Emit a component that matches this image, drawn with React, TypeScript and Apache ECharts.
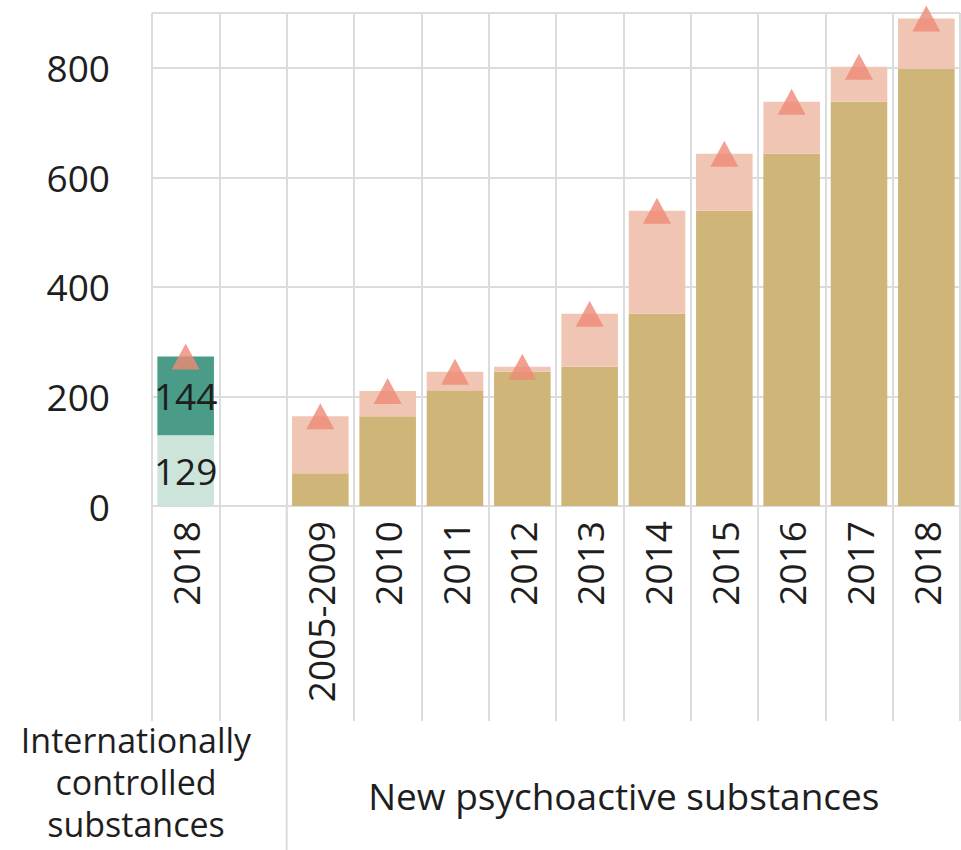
import React, { useEffect, useRef } from "react";
import * as echarts from "echarts";

const categories = ["2018", "", "2005-2009", "2010", "2011", "2012", "2013", "2014", "2015", "2016", "2017", "2018"];
const controlledLower = [129];
const controlledUpper = [144];
const npsPreviouslyReported = [60, 164, 210, 245, 254, 351, 539, 643, 738, 798];
const npsCumulativeTotal = [164, 210, 245, 254, 351, 539, 643, 738, 802, 890];
const yTicks = [0, 200, 400, 600, 800];
const groupLabels = ["Internationally\ncontrolled\nsubstances", "New psychoactive substances"];

const FONT = "Open Sans";
const GRID = "#dcdcdc";
const TEXT = "#1e1e1e";

export default function App() {
  const ref = useRef<HTMLDivElement>(null);
  useEffect(() => {
    document.body.style.margin = "0";
    if (!ref.current) return;
    const chart = echarts.init(ref.current, null, { renderer: "svg" });

    const icsOffset = 0;
    const npsOffset = 2;
    const lower = categories.map((_, i) => (i === icsOffset ? controlledLower[0] : "-"));
    const upper = categories.map((_, i) => (i === icsOffset ? controlledUpper[0] : "-"));
    const base = categories.map((_, i) => (i >= npsOffset ? npsPreviouslyReported[i - npsOffset] : "-"));
    const added = categories.map((_, i) =>
      i >= npsOffset ? npsCumulativeTotal[i - npsOffset] - npsPreviouslyReported[i - npsOffset] : "-"
    );
    const totals = categories.map((_, i) => {
      if (i === icsOffset) return controlledLower[0] + controlledUpper[0];
      if (i >= npsOffset) return npsCumulativeTotal[i - npsOffset];
      return "-";
    });

    const barW = "84%";
    const barLabel = { show: true, position: "inside", fontSize: 37, color: TEXT, fontFamily: FONT };
    chart.setOption({
      animation: false,
      grid: { left: 152, right: 1, top: 13, bottom: 344, containLabel: false },
      xAxis: {
        type: "category",
        data: categories,
        boundaryGap: true,
        axisLine: { show: false },
        axisTick: { show: true, interval: 0, length: 215, lineStyle: { color: GRID, width: 2 } },
        axisLabel: { interval: 0, rotate: 90, margin: 15, fontSize: 37, color: TEXT, fontFamily: FONT },
        splitLine: { show: true, interval: 0, lineStyle: { color: GRID, width: 2 } },
      },
      yAxis: {
        type: "value",
        min: 0,
        max: 900,
        interval: 200,
        axisLine: { show: false },
        axisTick: { show: false },
        axisLabel: {
          margin: 42,
          fontSize: 37,
          color: TEXT,
          fontFamily: FONT,
          formatter: (v: number) => (yTicks.includes(v) ? String(v) : ""),
        },
        splitLine: { show: true, lineStyle: { color: GRID, width: 2 } },
      },
      series: [
        {
          name: "Controlled (lower)",
          type: "bar",
          stack: "s",
          barWidth: barW,
          data: lower,
          itemStyle: { color: "#cce4da" },
          label: barLabel,
        },
        {
          name: "Controlled (upper)",
          type: "bar",
          stack: "s",
          barWidth: barW,
          data: upper,
          itemStyle: { color: "#4a9c88" },
          label: barLabel,
        },
        {
          name: "NPS previously reported",
          type: "bar",
          stack: "s",
          barWidth: barW,
          data: base,
          itemStyle: { color: "#cfb678" },
        },
        {
          name: "NPS newly reported",
          type: "bar",
          stack: "s",
          barWidth: barW,
          data: added,
          itemStyle: { color: "#f1c5b3" },
        },
        {
          name: "Total",
          type: "scatter",
          symbol: "triangle",
          symbolSize: [28, 26],
          data: totals,
          itemStyle: { color: "#ee8a76" },
          z: 5,
        },
      ],
    });

    const x1 = chart.convertToPixel({ xAxisIndex: 0 }, 1) as number;
    const x2 = chart.convertToPixel({ xAxisIndex: 0 }, 2) as number;
    const sepX = (x1 + x2) / 2;
    const y0 = chart.convertToPixel({ yAxisIndex: 0 }, 0) as number;

    chart.setOption({
      graphic: [
        {
          type: "line",
          shape: { x1: sepX, y1: y0, x2: sepX, y2: 850 },
          style: { stroke: GRID, lineWidth: 2 },
        },
        {
          type: "text",
          x: 136,
          y: 782,
          style: {
            text: groupLabels[0],
            font: `34px "${FONT}"`,
            fill: TEXT,
            textAlign: "center",
            textVerticalAlign: "middle",
            lineHeight: 42,
          },
        },
        {
          type: "text",
          x: (sepX + 961) / 2,
          y: 795,
          style: {
            text: groupLabels[1],
            font: `37px "${FONT}"`,
            fill: TEXT,
            textAlign: "center",
            textVerticalAlign: "middle",
          },
        },
      ],
    });

    return () => chart.dispose();
  }, []);
  return <div ref={ref} style={{ width: 961, height: 850 }} />;
}
